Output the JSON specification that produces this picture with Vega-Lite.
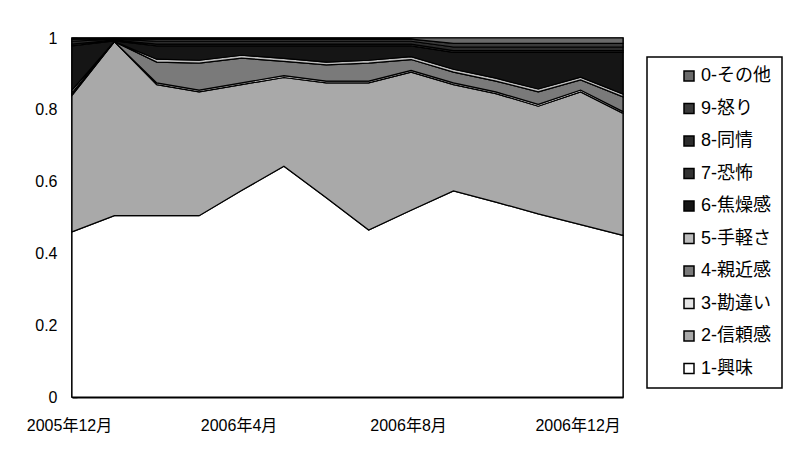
{
  "$schema": "https://vega.github.io/schema/vega-lite/v6.json",
  "width": 551,
  "height": 359,
  "autosize": {"type": "none"},
  "padding": {"left": 72, "top": 38, "right": 185, "bottom": 63},
  "background": "white",
  "config": {
    "font": "Liberation Sans, Noto Sans CJK JP",
    "view": {"stroke": "black", "strokeWidth": 1.5},
    "axis": {"labelFont": "Liberation Sans, Noto Sans CJK JP", "labelColor": "black", "domainColor": "black", "tickColor": "black", "grid": false, "title": null, "zindex": 1},
    "legend": {"strokeWidth": 1.5}
  },
  "data": {
    "values": [
      {"month": "2005年12月", "1-興味": 0.46, "2-信頼感": 0.38, "3-勘違い": 0.003, "4-親近感": 0.004, "5-手軽さ": 0.008, "6-焦燥感": 0.123, "7-恐怖": 0.005, "8-同情": 0.008, "9-怒り": 0.006, "0-その他": 0.003},
      {"month": "2006年1月", "1-興味": 0.505, "2-信頼感": 0.485, "3-勘違い": 0.0, "4-親近感": 0.0, "5-手軽さ": 0.0, "6-焦燥感": 0.002, "7-恐怖": 0.002, "8-同情": 0.003, "9-怒り": 0.002, "0-その他": 0.001},
      {"month": "2006年2月", "1-興味": 0.505, "2-信頼感": 0.365, "3-勘違い": 0.005, "4-親近感": 0.058, "5-手軽さ": 0.008, "6-焦燥感": 0.037, "7-恐怖": 0.005, "8-同情": 0.008, "9-怒り": 0.006, "0-その他": 0.003},
      {"month": "2006年3月", "1-興味": 0.505, "2-信頼感": 0.345, "3-勘違い": 0.005, "4-親近感": 0.075, "5-手軽さ": 0.008, "6-焦燥感": 0.04, "7-恐怖": 0.005, "8-同情": 0.008, "9-怒り": 0.006, "0-その他": 0.003},
      {"month": "2006年4月", "1-興味": 0.575, "2-信頼感": 0.295, "3-勘違い": 0.005, "4-親近感": 0.069, "5-手軽さ": 0.008, "6-焦燥感": 0.026, "7-恐怖": 0.005, "8-同情": 0.008, "9-怒り": 0.006, "0-その他": 0.003},
      {"month": "2006年5月", "1-興味": 0.643, "2-信頼感": 0.247, "3-勘違い": 0.005, "4-親近感": 0.04, "5-手軽さ": 0.008, "6-焦燥感": 0.035, "7-恐怖": 0.005, "8-同情": 0.008, "9-怒り": 0.006, "0-その他": 0.003},
      {"month": "2006年6月", "1-興味": 0.555, "2-信頼感": 0.32, "3-勘違い": 0.005, "4-親近感": 0.045, "5-手軽さ": 0.008, "6-焦燥感": 0.045, "7-恐怖": 0.005, "8-同情": 0.008, "9-怒り": 0.006, "0-その他": 0.003},
      {"month": "2006年7月", "1-興味": 0.465, "2-信頼感": 0.41, "3-勘違い": 0.005, "4-親近感": 0.05, "5-手軽さ": 0.008, "6-焦燥感": 0.04, "7-恐怖": 0.005, "8-同情": 0.008, "9-怒り": 0.006, "0-その他": 0.003},
      {"month": "2006年8月", "1-興味": 0.52, "2-信頼感": 0.385, "3-勘違い": 0.005, "4-親近感": 0.03, "5-手軽さ": 0.008, "6-焦燥感": 0.03, "7-恐怖": 0.005, "8-同情": 0.008, "9-怒り": 0.006, "0-その他": 0.003},
      {"month": "2006年9月", "1-興味": 0.574, "2-信頼感": 0.296, "3-勘違い": 0.005, "4-親近感": 0.03, "5-手軽さ": 0.008, "6-焦燥感": 0.047, "7-恐怖": 0.005, "8-同情": 0.01, "9-怒り": 0.01, "0-その他": 0.015},
      {"month": "2006年10月", "1-興味": 0.543, "2-信頼感": 0.302, "3-勘違い": 0.005, "4-親近感": 0.03, "5-手軽さ": 0.008, "6-焦燥感": 0.072, "7-恐怖": 0.005, "8-同情": 0.01, "9-怒り": 0.01, "0-その他": 0.015},
      {"month": "2006年11月", "1-興味": 0.51, "2-信頼感": 0.3, "3-勘違い": 0.005, "4-親近感": 0.035, "5-手軽さ": 0.008, "6-焦燥感": 0.102, "7-恐怖": 0.005, "8-同情": 0.01, "9-怒り": 0.01, "0-その他": 0.015},
      {"month": "2006年12月", "1-興味": 0.48, "2-信頼感": 0.37, "3-勘違い": 0.005, "4-親近感": 0.028, "5-手軽さ": 0.008, "6-焦燥感": 0.069, "7-恐怖": 0.005, "8-同情": 0.01, "9-怒り": 0.01, "0-その他": 0.015},
      {"month": "2007年1月", "1-興味": 0.45, "2-信頼感": 0.34, "3-勘違い": 0.005, "4-親近感": 0.041, "5-手軽さ": 0.008, "6-焦燥感": 0.116, "7-恐怖": 0.005, "8-同情": 0.01, "9-怒り": 0.01, "0-その他": 0.015}
    ]
  },
  "transform": [
    {"fold": ["1-興味", "2-信頼感", "3-勘違い", "4-親近感", "5-手軽さ", "6-焦燥感", "7-恐怖", "8-同情", "9-怒り", "0-その他"], "as": ["series", "share"]},
    {"calculate": "indexof(['1-興味','2-信頼感','3-勘違い','4-親近感','5-手軽さ','6-焦燥感','7-恐怖','8-同情','9-怒り','0-その他'], datum.series)", "as": "rank"}
  ],
  "mark": {"type": "area", "stroke": "black", "strokeWidth": 1.2, "line": false},
  "encoding": {
    "x": {
      "field": "month", "type": "ordinal", "sort": null,
      "scale": {"type": "point", "padding": 0},
      "axis": {"values": ["2005年12月", "2006年4月", "2006年8月", "2006年12月"], "labelAngle": 0, "labelFontSize": 16, "tickSize": -6, "tickWidth": 1.5, "domainWidth": 2, "labelPadding": 34, "labelBaseline": "middle", "labelOffset": -3}
    },
    "y": {
      "field": "share", "type": "quantitative", "stack": "zero",
      "scale": {"domain": [0, 1], "nice": false},
      "axis": {"values": [0, 0.2, 0.4, 0.6, 0.8, 1], "format": "~g", "labelFontSize": 16, "tickSize": -5, "tickWidth": 1.5, "domainWidth": 2, "labelPadding": 20}
    },
    "color": {
      "field": "series", "type": "nominal",
      "scale": {
        "domain": ["0-その他", "9-怒り", "8-同情", "7-恐怖", "6-焦燥感", "5-手軽さ", "4-親近感", "3-勘違い", "2-信頼感", "1-興味"],
        "range": ["#6a6a6a", "#3a3a3a", "#2c2c2c", "#333333", "#151515", "#bdbdbd", "#7a7a7a", "#e6e6e6", "#a9a9a9", "#ffffff"]
      },
      "legend": {
        "title": null, "orient": "none", "legendX": 575, "legendY": 19,
        "padding": 10, "strokeColor": "black", "fillColor": "white",
        "symbolType": "square", "symbolSize": 100, "symbolStrokeColor": "black", "symbolStrokeWidth": 1.5, "symbolOpacity": 1, "symbolOffset": 23,
        "labelFontSize": 18, "labelColor": "black", "labelOffset": 3, "rowPadding": 14.5,
        "labelFont": "Liberation Sans, Noto Sans CJK JP"
      }
    },
    "order": {"field": "rank", "type": "quantitative", "sort": "ascending"}
  }
}
